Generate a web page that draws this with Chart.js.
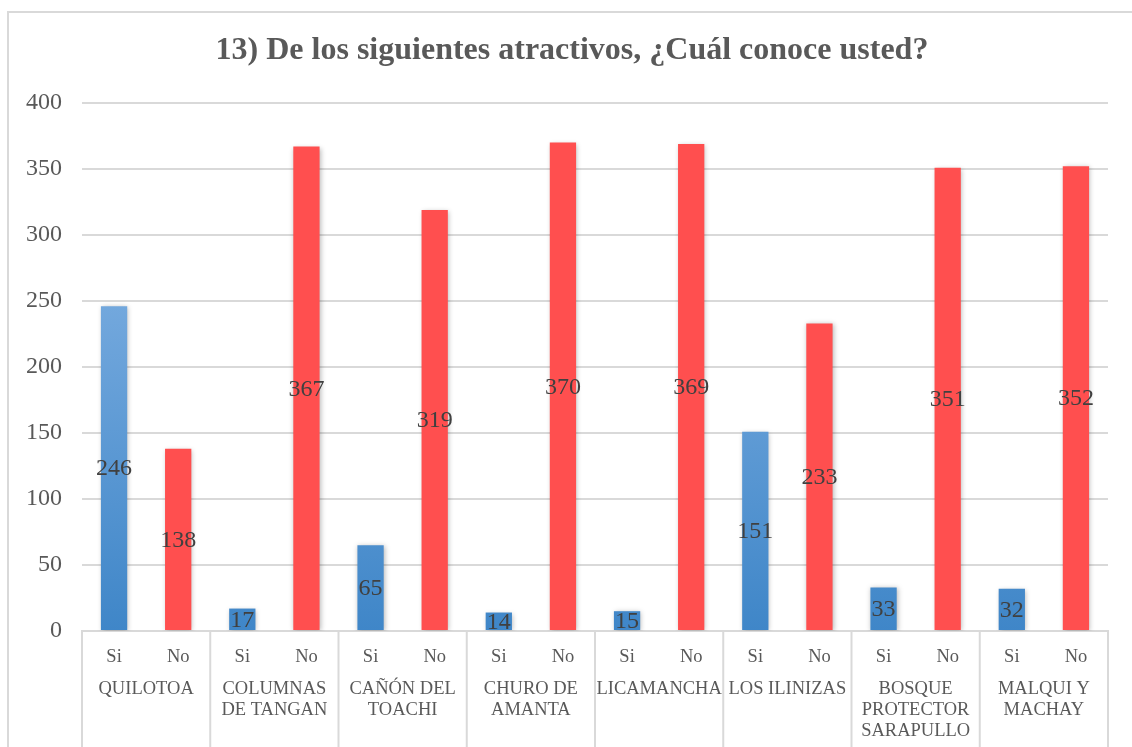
<!DOCTYPE html>
<html>
<head>
<meta charset="utf-8">
<script src="https://cdn.jsdelivr.net/npm/chart.js@4.4.1/dist/chart.umd.min.js"></script>
<style>
  body { margin: 0; background: #fff; }
  #wrap { position: absolute; left: 0; top: 0; width: 1132px; height: 747px; }
</style>
</head>
<body>
<div id="wrap"><canvas id="atractivos"></canvas></div>
<script>
const categories = [
    ["QUILOTOA"],
    ["COLUMNAS", "DE TANGAN"],
    ["CAÑÓN DEL", "TOACHI"],
    ["CHURO DE", "AMANTA"],
    ["LICAMANCHA"],
    ["LOS ILINIZAS"],
    ["BOSQUE", "PROTECTOR", "SARAPULLO"],
    ["MALQUI Y", "MACHAY"]
]
const answers = ["Si", "No"]
const siValues = [246, 17, 65, 14, 15, 151, 33, 32]
const noValues = [138, 367, 319, 370, 369, 233, 351, 352]
const yTicks = [0, 50, 100, 150, 200, 250, 300, 350, 400]
const title = "13) De los siguientes atractivos, ¿Cuál conoce usted?"

const serif = "'Liberation Serif', 'Times New Roman', serif"
const gridGray = "#d9d9d9"

// one bar per answer, Si / No alternating inside each place
let barLabels = []
let barValues = []
for (let i = 0; i < categories.length; i++) {
    barLabels.push(answers[0], answers[1])
    barValues.push(siValues[i], noValues[i])
}

function barColor(ctx) {
    if (ctx.dataIndex % 2 === 1) return "#ff4f4f"
    const area = ctx.chart.chartArea
    if (!area) return "#4a8fd2"
    const g = ctx.chart.ctx.createLinearGradient(0, area.top + 200, 0, area.bottom)
    g.addColorStop(0, "#73a8dd")
    g.addColorStop(1, "#3f86c8")
    return g
}

const frame = {
    id: "frame",
    beforeDraw(chart) {
        const c = chart.ctx
        c.save()
        c.strokeStyle = gridGray
        c.lineWidth = 2
        c.strokeRect(8, 12, 1300, 900)
        // title, centred on the whole frame
        c.font = "bold 32px " + serif
        c.fillStyle = "#595959"
        c.textAlign = "center"
        c.textBaseline = "middle"
        c.fillText(title, 572, 51)
        c.restore()
    },
    beforeDatasetsDraw(chart) {
        const c = chart.ctx
        c.save()
        c.shadowColor = "rgba(0,0,0,0.28)"
        c.shadowBlur = 5
        c.shadowOffsetX = 1
        c.shadowOffsetY = 1
    },
    afterDatasetsDraw(chart) {
        const c = chart.ctx
        c.restore()
        // value labels in the middle of each bar
        const meta = chart.getDatasetMeta(0)
        c.save()
        c.font = "24px " + serif
        c.fillStyle = "#404040"
        c.textAlign = "center"
        c.textBaseline = "middle"
        meta.data.forEach((bar, i) => {
            c.fillText(String(barValues[i]), bar.x, (bar.y + bar.base) / 2 + 1)
        })
        c.restore()
    },
    afterDraw(chart) {
        // separators between places, below the axis
        const x = chart.scales.x
        const c = chart.ctx
        c.save()
        c.strokeStyle = gridGray
        c.lineWidth = 2
        for (let i = 0; i <= categories.length; i++) {
            let px
            if (i === 0) px = x.left
            else if (i === categories.length) px = x.right
            else px = (x.getPixelForValue(2 * i - 1) + x.getPixelForValue(2 * i)) / 2
            c.beginPath()
            c.moveTo(px, chart.chartArea.bottom)
            c.lineTo(px, 747)
            c.stroke()
        }
        c.restore()
    }
}

new Chart(document.querySelector("#atractivos"), {
    type: "bar",
    data: {
        labels: barLabels,
        datasets: [{
            data: barValues,
            backgroundColor: barColor,
            categoryPercentage: 1,
            barPercentage: 0.41
        }]
    },
    options: {
        responsive: true,
        maintainAspectRatio: false,
        animation: false,
        layout: { padding: { left: 0, right: 24, top: 103, bottom: 0 } },
        plugins: {
            legend: { display: false },
            tooltip: { enabled: false },
            title: { display: false }
        },
        scales: {
            y: {
                min: 0,
                max: 400,
                afterBuildTicks: (scale) => { scale.ticks = yTicks.map(v => ({ value: v })) },
                afterFit: (scale) => { scale.width = 82 },
                border: { display: false },
                grid: { color: gridGray, lineWidth: 2, drawTicks: false },
                ticks: {
                    color: "#595959",
                    font: { family: serif, size: 24 },
                    padding: 20
                }
            },
            x: {
                afterFit: (scale) => { scale.height = 40 },
                border: { display: true, color: gridGray, width: 2 },
                grid: { display: false },
                ticks: {
                    color: "#595959",
                    font: { family: serif, size: 18.5 },
                    padding: 7,
                    autoSkip: false,
                    maxRotation: 0,
                    minRotation: 0
                }
            },
            x2: {
                type: "category",
                labels: categories,
                position: "bottom",
                offset: true,
                afterFit: (scale) => { scale.height = 76 },
                border: { display: false },
                grid: { display: false },
                ticks: {
                    color: "#595959",
                    font: { family: serif, size: 18.5, lineHeight: 1.13 },
                    padding: 0,
                    autoSkip: false,
                    maxRotation: 0,
                    minRotation: 0
                }
            }
        }
    },
    plugins: [frame]
})
</script>
</body>
</html>
